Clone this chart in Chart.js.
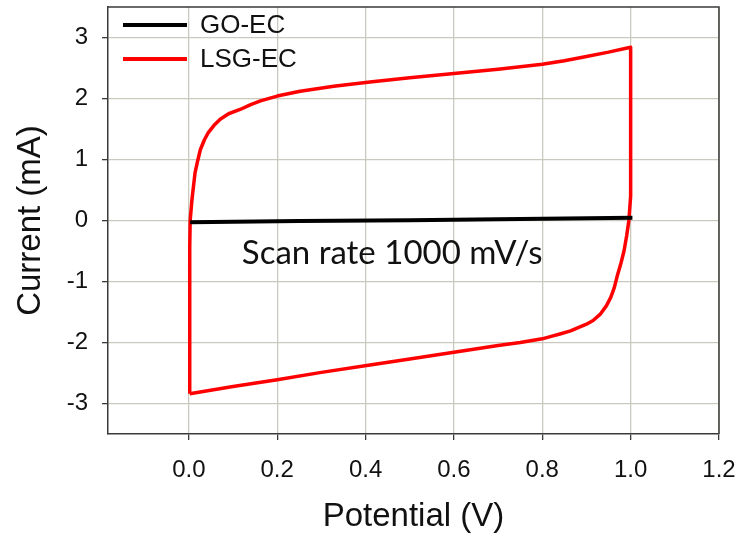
<!DOCTYPE html>
<html>
<head>
<meta charset="utf-8">
<script src="https://cdn.jsdelivr.net/npm/chart.js@4.4.1/dist/chart.umd.min.js"></script>
<style>
body { margin: 0; background: #fff; }
#wrap { width: 740px; height: 539px; }
</style>
</head>
<body>
<div id="wrap"><canvas id="cvChart"></canvas></div>
<script>
// series
const seriesNames = ['GO-EC', 'LSG-EC'];
const seriesColors = ['#000000', '#ff0000'];

const goPotential = [0.003, 0.25, 0.5, 0.75, 1.004];
const goCurrent = [-0.03, -0.01, 0.005, 0.025, 0.045];

const lsgPotential = [0.002, 0.002, 0.002, 0.002, 0.003, 0.007, 0.014, 0.020, 0.026, 0.035, 0.044, 0.057,
    0.071, 0.09, 0.116, 0.14, 0.162, 0.2, 0.252, 0.328, 0.41, 0.5, 0.6, 0.7, 0.8, 0.85, 0.9, 0.95, 1.0,
    1.0, 1.0, 1.0, 0.998, 0.996, 0.991, 0.985, 0.978, 0.97, 0.963, 0.955, 0.945, 0.932, 0.915,
    0.9, 0.88, 0.864, 0.84, 0.82, 0.8, 0.75, 0.7, 0.6, 0.5, 0.41, 0.3, 0.2, 0.1, 0.002];
const lsgCurrent = [-2.84, -1.8, -1.0, -0.45, 0.0, 0.34, 0.78, 0.98, 1.16, 1.32, 1.44, 1.56,
    1.66, 1.75, 1.82, 1.90, 1.96, 2.04, 2.12, 2.20, 2.27, 2.34, 2.41, 2.48, 2.56, 2.62, 2.69, 2.76, 2.84,
    2.0, 1.0, 0.4, 0.2, 0.0, -0.25, -0.5, -0.7, -0.9, -1.1, -1.26, -1.40, -1.53, -1.64,
    -1.70, -1.76, -1.81, -1.86, -1.90, -1.94, -2.0, -2.05, -2.16, -2.27, -2.37, -2.49, -2.61, -2.72, -2.84];

const xTicks = [0.0, 0.2, 0.4, 0.6, 0.8, 1.0, 1.2];
const yTicks = [-3, -2, -1, 0, 1, 2, 3];

const noteText = 'Scan rate 1000 mV/s';
const notePos = [0.12, -0.71];

function toPoints(xs, ys) {
    return xs.map(function (x, i) { return { x: x, y: ys[i] }; });
}

const gridColor = '#c9c9bd';
const axisColor = '#3a3a3a';
const tickFont = { family: 'Liberation Sans, Arial, sans-serif', size: 24 };
const titleFont = { family: 'Liberation Sans, Arial, sans-serif', size: 33 };

// drop the label overhang padding so the plot box sits where the layout says
function noPadding(scale) {
    scale.paddingTop = 0;
    scale.paddingBottom = 0;
    scale.paddingLeft = 0;
    scale.paddingRight = 0;
}

// box round the plot, legend inside and the note
const framePlugin = {
    id: 'frame',
    beforeDatasetsDraw(chart) {
        const a = chart.chartArea;
        const ctx = chart.ctx;
        ctx.save();
        ctx.strokeStyle = axisColor;
        ctx.lineWidth = 1.5;
        ctx.beginPath();
        ctx.moveTo(a.left, a.top);
        ctx.lineTo(a.right, a.top);
        ctx.lineTo(a.right, a.bottom);
        ctx.stroke();
        ctx.restore();
    },
    afterDatasetsDraw(chart) {
        const a = chart.chartArea;
        const ctx = chart.ctx;
        ctx.save();
        chart.data.datasets.forEach(function (ds, i) {
            const y = a.top + 18 + i * 34;
            ctx.strokeStyle = ds.borderColor;
            ctx.lineWidth = 4;
            ctx.beginPath();
            ctx.moveTo(a.left + 15, y);
            ctx.lineTo(a.left + 79, y);
            ctx.stroke();
            ctx.fillStyle = '#111';
            ctx.font = '26px "Liberation Sans", Arial, sans-serif';
            ctx.textBaseline = 'middle';
            ctx.textAlign = 'left';
            ctx.fillText(ds.label, a.left + 92, y + 1);
        });
        const xs = chart.scales.x, ys = chart.scales.y;
        ctx.font = '33px Lato, "Open Sans", sans-serif';
        ctx.textBaseline = 'alphabetic';
        ctx.fillStyle = '#111';
        ctx.fillText(noteText, xs.getPixelForValue(notePos[0]), ys.getPixelForValue(notePos[1]));
        ctx.restore();
    }
};

new Chart(document.getElementById('cvChart'), {
    type: 'scatter',
    data: {
        datasets: [
            {
                label: seriesNames[0],
                data: toPoints(goPotential, goCurrent),
                borderColor: seriesColors[0],
                borderWidth: 4,
                showLine: true,
                pointRadius: 0,
                tension: 0
            },
            {
                label: seriesNames[1],
                data: toPoints(lsgPotential, lsgCurrent),
                borderColor: seriesColors[1],
                borderWidth: 3.5,
                borderJoinStyle: 'round',
                showLine: true,
                pointRadius: 0,
                tension: 0
            }
        ]
    },
    options: {
        responsive: true,
        maintainAspectRatio: false,
        animation: false,
        layout: { padding: { left: 0, top: 7, right: 21, bottom: 0 } },
        plugins: {
            legend: { display: false },
            tooltip: { enabled: false }
        },
        scales: {
            x: {
                type: 'linear',
                min: -0.183,
                max: 1.2,
                afterBuildTicks: function (scale) {
                    scale.ticks = xTicks.map(function (v) { return { value: v }; });
                },
                afterFit: function (scale) { scale.height = 105; noPadding(scale); },
                grid: { color: gridColor, tickColor: axisColor, tickLength: 6, lineWidth: 1.3 },
                border: { color: axisColor, width: 1.5 },
                ticks: {
                    font: tickFont,
                    color: '#111',
                    padding: 16,
                    maxRotation: 0,
                    callback: function (v) { return v.toFixed(1); }
                },
                title: {
                    display: true,
                    text: 'Potential (V)',
                    font: titleFont,
                    color: '#111',
                    padding: { top: 0, bottom: 2 }
                }
            },
            y: {
                type: 'linear',
                min: -3.5,
                max: 3.5,
                afterBuildTicks: function (scale) {
                    scale.ticks = yTicks.map(function (v) { return { value: v }; });
                },
                afterFit: function (scale) { scale.width = 108; noPadding(scale); },
                grid: { color: gridColor, tickColor: axisColor, tickLength: 6, lineWidth: 1.3 },
                border: { color: axisColor, width: 1.5 },
                ticks: {
                    font: tickFont,
                    color: '#111',
                    padding: 14,
                    callback: function (v) { return String(v); }
                },
                title: {
                    display: true,
                    text: 'Current (mA)',
                    font: titleFont,
                    color: '#111',
                    padding: { top: 11, bottom: 0 }
                }
            }
        }
    },
    plugins: [framePlugin]
});
</script>
</body>
</html>
